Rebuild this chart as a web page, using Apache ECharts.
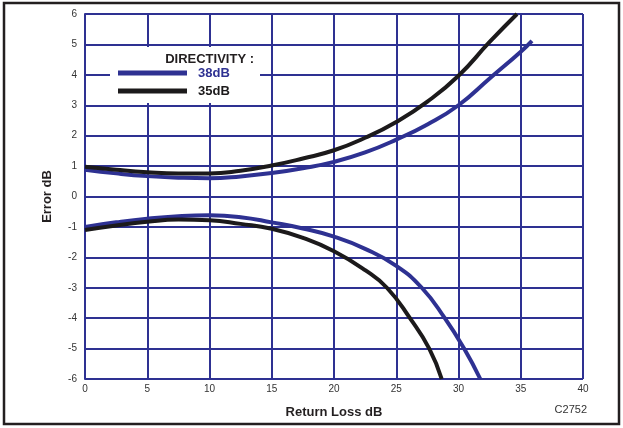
<!DOCTYPE html>
<html>
<head>
<meta charset="utf-8">
<script src="https://cdn.jsdelivr.net/npm/echarts@6/dist/echarts.min.js"></script>
<style>
html,body{margin:0;padding:0;background:#fff;}
#c{width:623px;height:428px;}
</style>
</head>
<body>
<div id="c"></div>
<script>
// Return loss (x) values and error (y) values for each curve
const up35X = [0, 2.5, 5, 7.5, 10, 12.5, 15, 17.5, 20, 22.5, 25, 27.5, 30, 32.5, 34.7];
const up35Y = [0.98, 0.88, 0.80, 0.76, 0.76, 0.85, 1.02, 1.25, 1.52, 1.93, 2.45, 3.12, 3.97, 5.08, 6.0];

const up38X = [0, 2.5, 5, 7.5, 10, 12.5, 15, 17.5, 20, 22.5, 25, 27.5, 30, 32.5, 35, 35.9];
const up38Y = [0.88, 0.76, 0.67, 0.62, 0.60, 0.66, 0.77, 0.93, 1.14, 1.45, 1.87, 2.37, 3.0, 3.88, 4.76, 5.12];

const lo38X = [0, 2.5, 5, 7.5, 10, 12.5, 15, 17.5, 20, 22.5, 25, 27.05, 28.9, 30.45, 31.75];
const lo38Y = [-1.0, -0.85, -0.73, -0.65, -0.62, -0.68, -0.85, -1.05, -1.32, -1.72, -2.28, -3.0, -4.0, -5.0, -6.0];

const lo35X = [0, 2.5, 5, 7.5, 10, 12.5, 15, 17.5, 20, 22.5, 24.25, 26.1, 27.65, 28.65];
const lo35Y = [-1.1, -0.95, -0.83, -0.76, -0.78, -0.9, -1.06, -1.36, -1.8, -2.42, -3.0, -4.0, -5.0, -6.0];

const xTicks = [0, 5, 10, 15, 20, 25, 30, 35, 40];
const yTicks = [-6, -5, -4, -3, -2, -1, 0, 1, 2, 3, 4, 5, 6];
const seriesNames = ['38dB', '35dB'];
const legendTitle = 'DIRECTIVITY :';
const xName = 'Return Loss dB';
const yName = 'Error dB';
const figId = 'C2752';

const BLUE = '#2e3192';
const BLACK = '#1c1a1b';
const FONT = '"Liberation Sans", Arial, Helvetica, sans-serif';

function pairs(xs, ys) { return xs.map((x, i) => [x, ys[i]]); }

function lineSeries(name, xs, ys, color) {
  return {
    name: name,
    type: 'line',
    data: pairs(xs, ys),
    smooth: 0.5,
    showSymbol: false,
    symbol: 'none',
    lineStyle: { color: color, width: 4 },
    itemStyle: { color: color },
    z: 3
  };
}

const chart = echarts.init(document.getElementById('c'), null, { renderer: 'canvas' });
chart.setOption({
  animation: false,
  backgroundColor: '#fff',
  grid: { left: 85, right: 40, top: 14, bottom: 49, containLabel: false },
  xAxis: {
    type: 'value', min: xTicks[0], max: xTicks[xTicks.length - 1], interval: 5,
    name: xName, nameLocation: 'middle', nameGap: 27,
    nameTextStyle: { fontFamily: FONT, fontWeight: 'bold', fontSize: 13, color: '#231f20' },
    axisLine: { show: true, lineStyle: { color: BLUE, width: 2 } },
    axisTick: { show: false },
    axisLabel: { fontFamily: FONT, fontSize: 10, color: '#333', margin: 5 },
    splitLine: { show: true, lineStyle: { color: BLUE, width: 2 } }
  },
  yAxis: {
    type: 'value', min: yTicks[0], max: yTicks[yTicks.length - 1], interval: 1,
    name: yName, nameLocation: 'middle', nameGap: 31, nameRotate: 90,
    nameTextStyle: { fontFamily: FONT, fontWeight: 'bold', fontSize: 13, color: '#231f20' },
    axisLine: { show: true, lineStyle: { color: BLUE, width: 2 } },
    axisTick: { show: false },
    axisLabel: { fontFamily: FONT, fontSize: 10, color: '#333', margin: 8 },
    splitLine: { show: true, lineStyle: { color: BLUE, width: 2 } }
  },
  legend: {
    orient: 'vertical', left: 110, top: 66,
    padding: [0, 0, 0, 8],
    itemWidth: 69, itemHeight: 5, itemGap: 4,
    icon: 'rect',
    data: [
      { name: seriesNames[0], textStyle: { color: BLUE } },
      { name: seriesNames[1], textStyle: { color: BLACK } }
    ],
    textStyle: { fontFamily: FONT, fontWeight: 'bold', fontSize: 13, lineHeight: 14, padding: [0, 0, 0, 6] },
    z: 10
  },
  graphic: [
    { type: 'rect', shape: { x: 110, y: 47, width: 150, height: 56 }, style: { fill: '#fff' }, z: 4 },
    { type: 'text', x: 254, y: 59, style: { text: legendTitle, fontFamily: FONT, fontWeight: 'bold', fontSize: 13, fill: '#231f20', textAlign: 'right', textVerticalAlign: 'middle' }, z: 11 },
    { type: 'text', x: 587, y: 410, style: { text: figId, fontFamily: FONT, fontSize: 11, fill: '#333', textAlign: 'right', textVerticalAlign: 'middle' }, z: 11 },
    { type: 'rect', shape: { x: 4, y: 3, width: 615, height: 421 }, style: { fill: 'none', stroke: '#231f20', lineWidth: 2.5 }, z: 20 }
  ],
  series: [
    lineSeries(seriesNames[0], up38X, up38Y, BLUE),
    lineSeries(seriesNames[0], lo38X, lo38Y, BLUE),
    lineSeries(seriesNames[1], up35X, up35Y, BLACK),
    lineSeries(seriesNames[1], lo35X, lo35Y, BLACK)
  ]
});
</script>
</body>
</html>
